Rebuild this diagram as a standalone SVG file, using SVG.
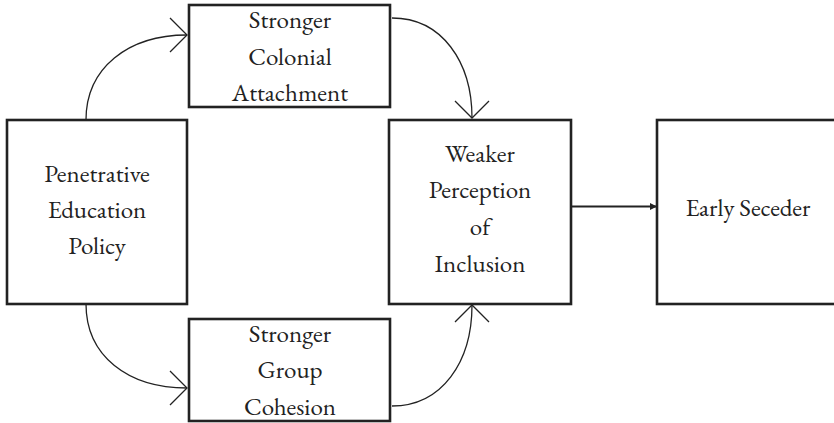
<svg xmlns="http://www.w3.org/2000/svg" width="834" height="423" viewBox="0 0 834 423">
<style>
.box{fill:#fff;stroke:#222;stroke-width:2.6}
.lbl{font-family:"EB Garamond","Liberation Serif",serif;font-size:25px;fill:#222;text-anchor:middle}
.con{fill:none;stroke:#222;stroke-width:1.3}
.chev{fill:none;stroke:#222;stroke-width:1.3}
</style>
<defs>
<marker id="tri" markerWidth="8" markerHeight="8" refX="6" refY="4" orient="auto" markerUnits="userSpaceOnUse">
<path d="M0,0.5 L7,4 L0,7.5 Z" fill="#222"/>
</marker>
</defs>
<rect width="834" height="423" fill="#fff"/>
<g id="connectors">
<path class="con" d="M86,120 C86,68 128,35 187,35"/>
<path class="chev" d="M170,18 L187,35 L170,52"/>
<path class="con" d="M392,18 C442,18 472,62 472,118"/>
<path class="chev" d="M455,101 L472,118 L489,101"/>
<path class="con" d="M86,304 C86,356 128,388 187,388"/>
<path class="chev" d="M170,371 L187,388 L170,405"/>
<path class="con" d="M392,406 C442,406 472,362 472,305"/>
<path class="chev" d="M455,322 L472,305 L489,322"/>
<line x1="572" y1="206.5" x2="656" y2="206.5" stroke="#222" stroke-width="2.2" marker-end="url(#tri)"/>
</g>
<g id="penetrative">
<rect class="box" x="7" y="120" width="180" height="184"/>
<text class="lbl" x="97" y="182">Penetrative</text>
<text class="lbl" x="97" y="218">Education</text>
<text class="lbl" x="97" y="254">Policy</text>
</g>
<g id="colonial">
<rect class="box" x="189" y="5" width="201" height="102"/>
<text class="lbl" x="290" y="28">Stronger</text>
<text class="lbl" x="290" y="65">Colonial</text>
<text class="lbl" x="290" y="101">Attachment</text>
</g>
<g id="cohesion">
<rect class="box" x="189" y="319" width="201" height="102"/>
<text class="lbl" x="290" y="342">Stronger</text>
<text class="lbl" x="290" y="378">Group</text>
<text class="lbl" x="290" y="415">Cohesion</text>
</g>
<g id="weaker">
<rect class="box" x="389" y="120" width="182" height="184"/>
<text class="lbl" x="480" y="162">Weaker</text>
<text class="lbl" x="480" y="198">Perception</text>
<text class="lbl" x="480" y="235">of</text>
<text class="lbl" x="480" y="272">Inclusion</text>
</g>
<g id="seceder">
<rect class="box" x="657" y="120" width="182" height="184"/>
<text class="lbl" x="748" y="216">Early Seceder</text>
</g>
</svg>
